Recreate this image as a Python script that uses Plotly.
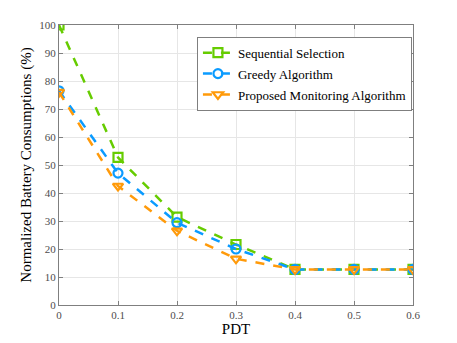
import plotly.graph_objects as go

# data
pdt = [0, 0.1, 0.2, 0.3, 0.4, 0.5, 0.6]
sequential = [100, 52.7, 31.4, 21.6, 12.7, 12.7, 12.7]
greedy = [76.5, 47.1, 29.4, 20.0, 12.7, 12.7, 12.7]
proposed = [76.0, 42.5, 26.5, 16.5, 12.7, 12.7, 12.7]
names = ['Sequential Selection', 'Greedy Algorithm', 'Proposed Monitoring Algorithm']

fig = go.Figure()

series = [
    (sequential, names[0], '#66CC00', 'square-open'),
    (greedy, names[1], '#0A9BFF', 'circle-open'),
    (proposed, names[2], '#FF9A0A', 'triangle-down-open'),
]
for i, (ys, name, color, symbol) in enumerate(series):
    fig.add_trace(go.Scatter(
        x=pdt, y=ys, name=name, mode='lines+markers', legendgroup=str(i),
        line=dict(color=color, width=2.5, dash='dash'),
        marker=dict(symbol=symbol, size=9, color=color,
                    line=dict(color=color, width=2.2))
    ))

axis_common = dict(
    showgrid=True, gridcolor='#E6E6E6', gridwidth=1,
    showline=True, linecolor='#7F7F7F', linewidth=1, mirror='ticks',
    ticks='inside', ticklen=4, tickcolor='#7F7F7F',
    tickfont=dict(family='Liberation Serif', size=11, color='#4D4D4D'),
    zeroline=False, automargin=False,
)

# the page body adds an 8px margin, so the figure is sized to fit the window
fig.update_layout(
    width=449, height=335,
    margin=dict(l=51, r=44, t=17, b=38),
    paper_bgcolor='white', plot_bgcolor='white',
    font=dict(family='Liberation Serif', color='#000000'),
    xaxis=dict(range=[0, 0.6], tickvals=pdt,
               ticktext=['0', '0.1', '0.2', '0.3', '0.4', '0.5', '0.6'],
               title=dict(text='PDT', font=dict(size=15), standoff=3),
               **axis_common),
    yaxis=dict(range=[0, 100], dtick=10,
               title=dict(text='Normalized Battery Consumptions (%)',
                          font=dict(size=15), standoff=4),
               **axis_common),
    legend=dict(x=0.997, y=0.958, xanchor='right', yanchor='top',
                bgcolor='white', bordercolor='#7F7F7F', borderwidth=1,
                font=dict(family='Liberation Serif', size=13),
                tracegroupgap=1, itemwidth=30),
    showlegend=True,
)

fig.write_html('out.html')
